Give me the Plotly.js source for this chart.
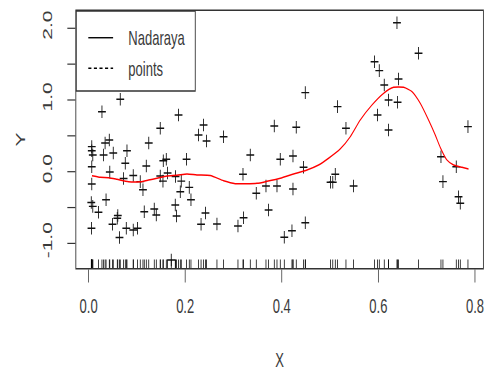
<!DOCTYPE html>
<html><head><meta charset="utf-8">
<script src="https://cdn.plot.ly/plotly-3.0.1.min.js"></script>
<style>
html,body{margin:0;padding:0;overflow:hidden;background:#fff;}
#wrap{width:486px;height:374px;overflow:hidden;}
#chart{width:784px;height:374px;transform:scaleX(0.62);transform-origin:0 0;}
</style></head><body><div id="wrap"><div id="chart"></div></div>
<script>
// observed points (X, Y)
const xs=[0.0656,0.0277,0.1863,0.1484,0.2381,0.2277,0.2443,0.1246,0.0429,0.0342,
0.0066,0.0066,0.0087,0.0311,0.0511,0.0795,0.0760,0.1195,0.1547,0.1609,
0.2029,0.0066,0.0439,0.1636,0.0725,0.0925,0.1484,0.0066,0.1070,0.1540,
0.1919,0.1126,0.2085,0.1899,0.0362,0.2120,0.0056,0.0087,0.0205,0.1795,
0.1360,0.1153,0.1402,0.1822,0.2420,0.0605,0.0594,0.0495,0.2329,0.0060,
0.0781,0.0925,0.1014,0.0640,0.1712,0.3348,0.3969,0.4232,0.4451,0.3197,
0.3472,0.3673,0.3901,0.4232,0.5010,0.5056,0.5108,0.2658,0.3209,0.3093,
0.3727,0.4487,0.4211,0.4052,0.2795,0.3845,0.4300,0.4487,0.5155,0.6385,
0.6832,0.5921,0.6019,0.6122,0.6418,0.6211,0.6398,0.5983,0.5329,0.6211,
0.7855,0.5487,0.7296,0.7613,0.7337,0.7660,0.7696,0.1801];
const ys=[1.010,0.837,0.791,0.605,0.651,0.512,0.428,0.400,0.442,0.400,
0.349,0.293,0.233,0.233,0.261,0.293,0.117,0.079,0.153,0.173,
0.173,0.070,-0.004,-0.018,-0.095,-0.053,-0.060,-0.172,-0.139,-0.132,
-0.132,-0.251,-0.218,-0.279,-0.391,-0.391,-0.430,-0.483,-0.565,-0.464,
-0.520,-0.558,-0.604,-0.618,-0.576,-0.611,-0.650,-0.732,-0.732,-0.789,
-0.789,-0.813,-0.789,-0.918,-1.232,0.233,0.173,0.219,0.061,-0.036,
-0.301,-0.199,-0.199,-0.241,-0.148,-0.148,-0.036,-0.729,-0.642,-0.757,
-0.534,-0.711,-0.823,-0.915,0.488,0.637,0.619,1.102,0.907,2.078,
1.651,1.534,1.409,1.209,1.293,1.000,0.968,0.791,0.605,0.582,
0.628,-0.199,0.209,0.070,-0.139,-0.349,-0.441,-0.067];
// Nadaraya-Watson curve
const curveX=[0.0070,0.0242,0.0414,0.0588,0.0828,0.1070,0.1242,0.1416,0.1623,0.1830,
0.2037,0.2244,0.2520,0.2795,0.3037,0.3487,0.3694,0.3969,0.4244,0.4522,
0.4762,0.4969,0.5211,0.5418,0.5625,0.5867,0.6108,0.6315,0.6522,0.6696,
0.6867,0.7039,0.7178,0.7282,0.7420,0.7557,0.7731,0.7867];
const curveY=[-0.056,-0.078,-0.084,-0.106,-0.139,-0.139,-0.116,-0.092,-0.060,-0.050,
-0.032,-0.046,-0.053,-0.126,-0.167,-0.162,-0.134,-0.092,-0.032,0.024,
0.093,0.187,0.317,0.488,0.721,0.930,1.093,1.177,1.177,1.116,
0.954,0.721,0.512,0.338,0.163,0.093,0.061,0.038];
const xTicks=[0,0.2,0.4,0.6,0.8];
const xTickText=['0.0','0.2','0.4','0.6','0.8'];
const yTicks=[-1,-0.5,0,0.5,1,1.5,2];
const yTickText=['-1.0','','0.0','','1.0','','2.0'];
const legendLabels=['Nadaraya','points'];

const FONT='"Liberation Sans", Arial, sans-serif';
const TXT='#3a3a3a';
const traces=[
 {x:xs,y:ys,type:'scatter',mode:'markers',showlegend:false,
  marker:{symbol:'cross-thin',size:9,color:'black',line:{color:'#111',width:1.4}}},
 {x:curveX,y:curveY,type:'scatter',mode:'lines',showlegend:false,
  line:{color:'#ff0000',width:1.5,shape:'spline',smoothing:0.6}}
];
const shapes=xs.map(v=>({type:'line',xref:'x',yref:'paper',x0:v,x1:v,y0:0,y1:0.033,
  line:{color:'black',width:1.2}}));
// legend box
shapes.push({type:'rect',xref:'paper',yref:'paper',x0:0,x1:0.2926,y0:0.6887,y1:1,
  line:{color:'#333',width:1.4},fillcolor:'rgba(0,0,0,0)'});
shapes.push({type:'line',xref:'paper',yref:'paper',x0:0.0296,x1:0.0906,y0:0.896,y1:0.896,
  line:{color:'black',width:1.4}});
shapes.push({type:'line',xref:'paper',yref:'paper',x0:0.0296,x1:0.0906,y0:0.777,y1:0.777,
  line:{color:'black',width:1.4,dash:'5px,4px'}});
const annotations=legendLabels.map((t,i)=>({xref:'paper',yref:'paper',x:0.1249,y:[0.896,0.777][i],
  xanchor:'left',yanchor:'middle',showarrow:false,text:t,font:{family:FONT,size:21,color:TXT}}));

const layout={
 width:784,height:374,
 margin:{l:123,r:5,t:11,b:106},
 paper_bgcolor:'white',plot_bgcolor:'white',
 showlegend:false,
 font:{family:FONT,color:TXT},
 xaxis:{range:[-0.0255,0.8166],showgrid:false,zeroline:false,showline:true,mirror:true,
  linecolor:'#333',linewidth:1.4,ticks:'outside',ticklen:13,tickwidth:1.2,tickcolor:'#333',
  tickvals:xTicks,ticktext:xTickText,tickfont:{family:FONT,size:21,color:TXT},
  ticklabelstandoff:5,
  title:{text:'X',font:{family:FONT,size:21,color:TXT},standoff:36}},
 yaxis:{range:[-1.343,2.241],showgrid:false,zeroline:false,showline:true,mirror:true,
  linecolor:'#333',linewidth:1.4,ticks:'outside',ticklen:13,tickwidth:1.2,tickcolor:'#333',
  tickvals:yTicks,ticktext:yTickText,tickangle:-90,tickfont:{family:FONT,size:21,color:TXT},
  ticklabelstandoff:16,
  title:{text:'Y',font:{family:FONT,size:21,color:TXT},standoff:19}},
 shapes:shapes,annotations:annotations
};
Plotly.newPlot('chart',traces,layout,{displayModeBar:false,staticPlot:true});
</script></body></html>
